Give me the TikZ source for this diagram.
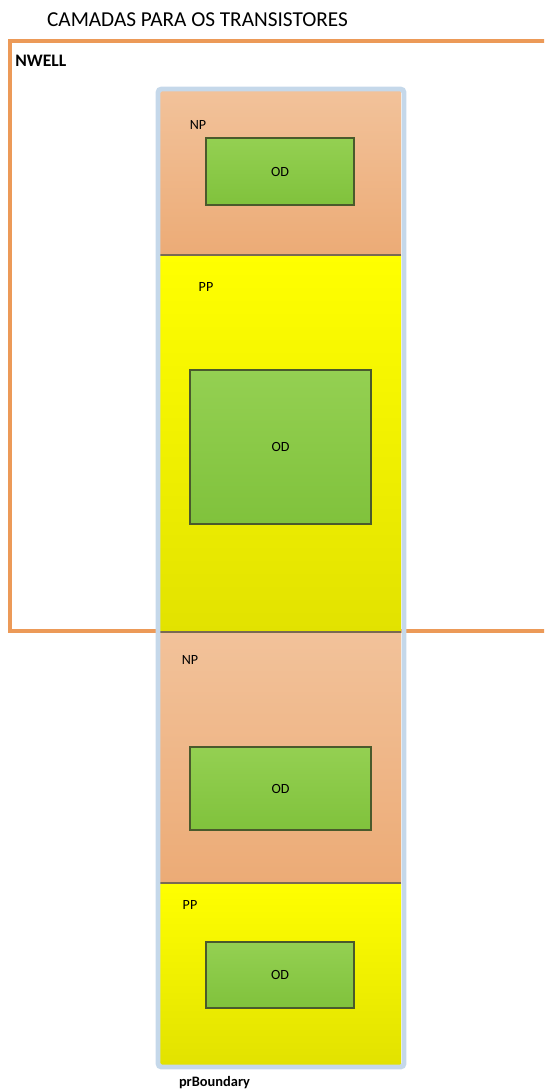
\documentclass[tikz,border=0pt]{standalone}
\usepackage{fontspec}
\setmainfont{Carlito}
\definecolor{wellorange}{HTML}{EC9A58}
\definecolor{bndblue}{HTML}{C5D8EA}
\definecolor{nptop}{HTML}{F2C29A}
\definecolor{npbot}{HTML}{ECAB76}
\definecolor{pptop}{HTML}{FFFF00}
\definecolor{ppbot}{HTML}{E2E200}
\definecolor{odtop}{HTML}{94D052}
\definecolor{odbot}{HTML}{80C23C}
\definecolor{odline}{HTML}{4A5A2C}
\definecolor{sepline}{HTML}{7A6A52}
\tikzset{
  npregion/.style={top color=nptop,bottom color=npbot,draw=none},
  ppregion/.style={top color=pptop,bottom color=ppbot,draw=none},
  odbox/.style={top color=odtop,bottom color=odbot,draw=odline,line width=0.7pt,
    inner sep=0pt,font=\fontsize{8}{9}\selectfont},
  layerlabel/.style={font=\fontsize{8}{9}\selectfont,inner sep=0pt},
  seprule/.style={sepline,line width=1.1pt}
}
\begin{document}
\begin{tikzpicture}[x=0.02cm,y=-0.02cm]
  \useasboundingbox (0,0) rectangle (544,1091);
  \clip (0,0) rectangle (544,1091);

  % title and nwell
  \node (title) at (197.5,20) {\fontsize{12.1}{14}\selectfont CAMADAS PARA OS TRANSISTORES};
  \draw [wellorange,line width=2.4pt] (548,41) -- (10,41) -- (10,631) -- (548,631);
  \node [font=\bfseries\fontsize{10}{11}\selectfont,anchor=west,inner sep=0pt] (nwell) at (15,61) {NWELL};

  % implant layers
  \shade [npregion] (160,92) rectangle (401,255);
  \shade [ppregion] (160,255) rectangle (401,632);
  \shade [npregion] (160,632) rectangle (401,883);
  \shade [ppregion] (160,883) rectangle (401,1064);
  \draw [seprule] (160,255) -- (401,255);
  \draw [seprule] (160,632) -- (401,632);
  \draw [seprule] (160,883) -- (401,883);

  % boundary
  \draw [bndblue,line width=2.8pt,rounded corners=2pt] (158,89) rectangle (404,1067);

  % labels
  \node [layerlabel] (np1) at (198,125) {NP};
  \node [layerlabel] (pp1) at (206,287) {PP};
  \node [layerlabel] (np2) at (190,660) {NP};
  \node [layerlabel] (pp2) at (190,905) {PP};

  % active areas
  \node [odbox,minimum width=148*0.02cm,minimum height=67*0.02cm] (od1) at (280,171.5) {OD};
  \node [odbox,minimum width=181*0.02cm,minimum height=154*0.02cm] (od2) at (280.5,447) {OD};
  \node [odbox,minimum width=181*0.02cm,minimum height=83*0.02cm] (od3) at (280.5,788.5) {OD};
  \node [odbox,minimum width=148*0.02cm,minimum height=66*0.02cm] (od4) at (280,975) {OD};

  \node [font=\bfseries\fontsize{8.2}{9}\selectfont,inner sep=0pt] (prb) at (214.5,1083) {prBoundary};
\end{tikzpicture}
\end{document}
